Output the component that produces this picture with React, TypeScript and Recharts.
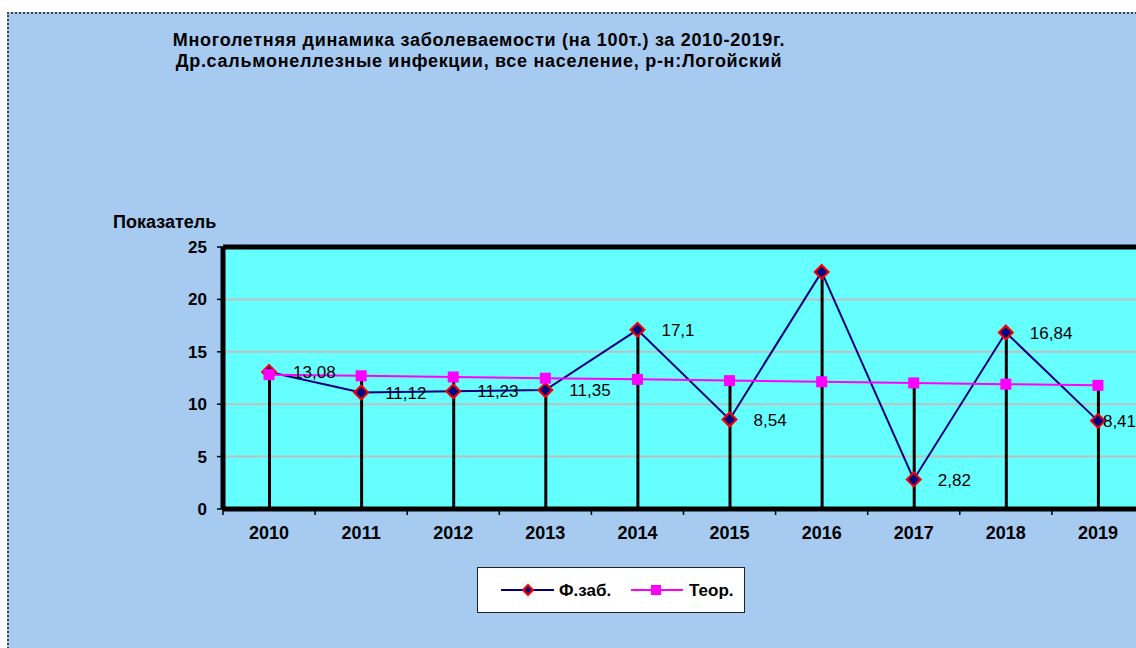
import React from 'react';
import {
  ComposedChart, Line, Bar, XAxis, YAxis, CartesianGrid, ReferenceLine, LabelList
} from 'recharts';

const years = ['2010', '2011', '2012', '2013', '2014', '2015', '2016', '2017', '2018', '2019'];
const factValues = [13.08, 11.12, 11.23, 11.35, 17.1, 8.54, 22.62, 2.82, 16.84, 8.41];
const teorValues = [12.82, 12.71, 12.6, 12.48, 12.37, 12.25, 12.14, 12.03, 11.91, 11.8];
const factLabels = ['13,08', '11,12', '11,23', '11,35', '17,1', '8,54', '', '2,82', '16,84', '8,41'];
const yTicks = [0, 5, 10, 15, 20, 25];

const titleLines = [
  'Многолетняя динамика заболеваемости (на 100т.) за 2010-2019г.',
  'Др.сальмонеллезные инфекции, все население, р-н:Логойский',
];

const FONT = 'Arial, "Liberation Sans", sans-serif';
const NAVY = '#000080';
const MAGENTA = '#FF00FF';

const rows = years.map((year, i) => ({
  year,
  fact: factValues[i],
  teor: teorValues[i],
  drop: Math.max(factValues[i], teorValues[i]),
  label: factLabels[i],
}));

const Diamond = (props: any) => {
  const { cx, cy, index } = props;
  if (cx == null || cy == null) return <g key={`d-${index}`} />;
  const r = 7;
  return (
    <polygon
      key={`d-${index}`}
      points={`${cx},${cy - r} ${cx + r},${cy} ${cx},${cy + r} ${cx - r},${cy}`}
      fill={NAVY}
      stroke="#FF0000"
      strokeWidth={2}
    />
  );
};

const Square = (props: any) => {
  const { cx, cy, index } = props;
  if (cx == null || cy == null) return <g key={`s-${index}`} />;
  return <rect key={`s-${index}`} x={cx - 5.5} y={cy - 5.5} width={11} height={11} fill={MAGENTA} />;
};

const FactLabel = (props: any) => {
  const { x, y, value, index } = props;
  if (!value) return null;
  // the last label sits against the chart edge, so it is pulled in
  const dx = index === years.length - 1 ? 5 : 24;
  return (
    <text x={x + dx} y={y} dy="0.36em" fontSize={17} fontFamily={FONT} fill="#000">
      {value}
    </text>
  );
};

const YearTick = (props: any) => {
  const { x, y, payload } = props;
  const half = payload && payload.offset ? payload.offset : 46;
  return (
    <g>
      <line x1={x - half} x2={x - half} y1={y} y2={y + 6} stroke="#000" strokeWidth={1.5} />
      <text x={x} y={y + 30} textAnchor="middle" fontSize={18} fontWeight="bold" fontFamily={FONT} fill="#000">
        {payload.value}
      </text>
    </g>
  );
};

const LegendBox = () => (
  <div
    style={{
      position: 'absolute', left: 477, top: 567, width: 266, height: 44,
      background: '#fff', border: '1px solid #222', fontFamily: FONT,
    }}
  >
    <svg width={266} height={44} style={{ position: 'absolute', left: 0, top: 0 }}>
      <line x1={23} x2={76} y1={22} y2={22} stroke={NAVY} strokeWidth={2} />
      <polygon points="50,17 55,22 50,27 45,22" fill={NAVY} stroke="#FF0000" strokeWidth={2} />
      <text x={81} y={28} fontSize={17} fontWeight="bold" fill="#000">Ф.заб.</text>
      <line x1={153} x2={205} y1={22} y2={22} stroke={MAGENTA} strokeWidth={2} />
      <rect x={173} y={17} width={10} height={10} fill={MAGENTA} />
      <text x={211} y={28} fontSize={17} fontWeight="bold" fill="#000">Теор.</text>
    </svg>
  </div>
);

export default function App() {
  return (
    <div style={{ position: 'fixed', left: 0, top: 0, width: 1136, height: 648, overflow: 'hidden', background: '#fff' }}>
      <div
        style={{
          position: 'absolute', left: 7, top: 12, width: 1140, height: 650,
          background: '#A6CAF0', borderTop: '2px dotted #444', borderLeft: '2px dotted #444',
        }}
      />
      <div
        style={{
          position: 'absolute', left: 109, top: 30, width: 740, textAlign: 'center', fontFamily: FONT,
          fontWeight: 'bold', fontSize: 18, letterSpacing: 0.7, lineHeight: '21px', color: '#000',
        }}
      >
        {titleLines.map((t) => (
          <div key={t}>{t}</div>
        ))}
      </div>
      <div style={{ position: 'absolute', left: 113, top: 212, fontFamily: FONT, fontWeight: 'bold', fontSize: 18, color: '#000' }}>
        Показатель
      </div>
      <div style={{ position: 'absolute', left: 0, top: 0 }}>
        <ComposedChart width={1160} height={648} data={rows} margin={{ top: 247, right: 16, left: 163, bottom: 99 }}>
          <CartesianGrid vertical={false} stroke="#C0C0C0" strokeWidth={2} fill="#66FFFF" fillOpacity={1} />
          <XAxis
            dataKey="year"
            height={40}
            interval={0}
            tickSize={0}
            tickMargin={0}
            tickLine={false}
            axisLine={{ stroke: '#000', strokeWidth: 5 }}
            tick={<YearTick />}
          />
          <YAxis
            domain={[0, 25]}
            ticks={yTicks}
            width={60}
            tickSize={6}
            tickMargin={10}
            tickLine={{ stroke: '#000', strokeWidth: 1.5 }}
            axisLine={{ stroke: '#000', strokeWidth: 5 }}
            tick={{ fontSize: 17, fontWeight: 'bold', fill: '#000', fontFamily: FONT }}
          />
          <ReferenceLine y={25} stroke="#000" strokeWidth={5} />
          <Line
            dataKey="fact"
            name="Ф.заб."
            stroke={NAVY}
            strokeWidth={2}
            dot={Diamond}
            activeDot={false}
            isAnimationActive={false}
          >
            <LabelList dataKey="label" content={FactLabel} />
          </Line>
          <Line
            dataKey="teor"
            name="Теор."
            stroke={MAGENTA}
            strokeWidth={2}
            dot={Square}
            activeDot={false}
            isAnimationActive={false}
          />
          <Bar dataKey="drop" barSize={3} fill="#000" isAnimationActive={false} />
        </ComposedChart>
      </div>
      <LegendBox />
    </div>
  );
}
